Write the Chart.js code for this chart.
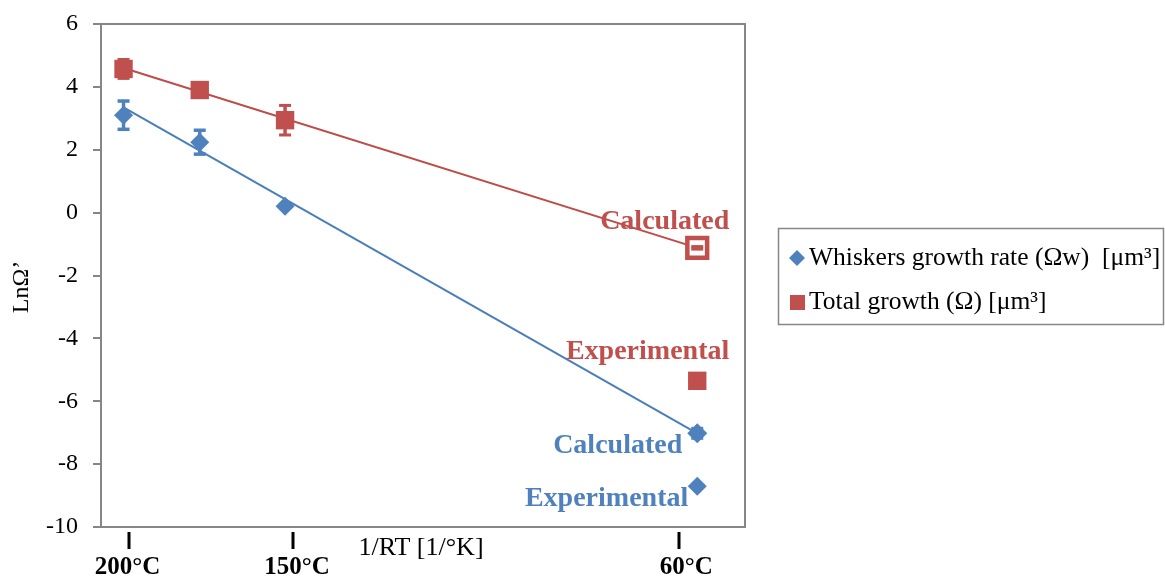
<!DOCTYPE html>
<html>
<head>
<meta charset="utf-8">
<script src="https://cdn.jsdelivr.net/npm/chart.js@4.4.1/dist/chart.umd.min.js"></script>
<style>
  html, body { margin: 0; padding: 0; background: #fff; }
</style>
</head>
<body>
<canvas id="myChart" width="1165" height="580"></canvas>
<script>
// x = 1/RT (x10^-4 mol/J) for 200, 175, 150 and 60 °C
const invRT = [2.542, 2.684, 2.843, 3.611];

// experimental points
const whiskersExp = [3.1, 2.24, 0.2, -8.7];
const whiskersErr = [0.45, 0.38, 0, 0];
const totalExp = [4.57, 3.9, 2.94, -5.35];
const totalErr = [0.3, 0, 0.47, 0];

// calculated value at 60 °C
const calcX = [3.611];
const whiskersCalc = [-7.02];
const whiskersCalcErr = [0.15];
const totalCalc = [-1.12];
const totalCalcErr = [0.04];

// fitted lines
const fitX = [2.542, 3.611];
const whiskersFit = [3.35, -7.02];
const totalFit = [4.6, -1.12];

const yTicks = [-10, -8, -6, -4, -2, 0, 2, 4, 6];
const tempLabels = ['200°C', '150°C', '60°C'];
const tempLabelX = [2.542, 2.843, 3.611];

const BLUE = '#4F81BD';
const RED = '#C0504D';
const GRAY = '#868686';
const SERIF = "'Liberation Serif', 'Times New Roman', serif";

function pts(xs, ys) {
  return xs.map((x, i) => ({ x: x, y: ys[i] }));
}

// each error bar = two points + a gap
function errBars(xs, ys, errs) {
  const out = [];
  xs.forEach((x, i) => {
    if (!errs[i]) return;
    out.push({ x: x, y: ys[i] - errs[i] }, { x: x, y: ys[i] + errs[i] }, { x: x, y: null });
  });
  return out;
}

const extras = {
  id: 'extras',
  beforeDatasetsDraw(chart) {
    const { ctx, chartArea: a } = chart;
    ctx.save();
    ctx.strokeStyle = GRAY;
    ctx.lineWidth = 2;
    ctx.strokeRect(a.left, a.top, a.right - a.left, a.bottom - a.top);
    ctx.restore();
  },
  afterDraw(chart) {
    const { ctx } = chart;
    const xs = chart.scales.x;
    const ys = chart.scales.y;
    ctx.save();

    // y title
    ctx.save();
    ctx.translate(22, 287);
    ctx.rotate(-Math.PI / 2);
    ctx.fillStyle = '#000';
    ctx.font = '24px ' + SERIF;
    ctx.textAlign = 'center';
    ctx.textBaseline = 'middle';
    ctx.fillText('LnΩ’', 0, 0);
    ctx.restore();

    // x title
    ctx.fillStyle = '#000';
    ctx.font = '26px ' + SERIF;
    ctx.textAlign = 'center';
    ctx.textBaseline = 'middle';
    ctx.fillText('1/RT [1/°K]', 421, 548);

    // temperature marks under the axis
    const markOff = [5, 8, -18];
    const textOff = [4, 12, -11];
    ctx.font = 'bold 25px ' + SERIF;
    tempLabels.forEach((lab, i) => {
      const px = xs.getPixelForValue(tempLabelX[i]);
      ctx.fillRect(Math.round(px + markOff[i]) - 1.5, 532, 3, 17);
      ctx.fillText(lab, px + textOff[i], 568);
    });

    // point annotations
    const cx = xs.getPixelForValue(calcX[0]);
    ctx.font = 'bold 28px ' + SERIF;
    ctx.textAlign = 'right';
    ctx.fillStyle = RED;
    ctx.fillText('Calculated', cx + 32, ys.getPixelForValue(totalCalc[0]) - 26);
    ctx.fillText('Experimental', cx + 32, ys.getPixelForValue(totalExp[3]) - 29);
    ctx.fillStyle = BLUE;
    ctx.fillText('Calculated', cx - 15, ys.getPixelForValue(whiskersCalc[0]) + 12);
    ctx.fillText('Experimental', cx - 9, ys.getPixelForValue(whiskersExp[3]) + 13);

    // legend
    ctx.strokeStyle = GRAY;
    ctx.lineWidth = 1.5;
    ctx.strokeRect(778.5, 228.5, 385, 96);
    ctx.fillStyle = BLUE;
    ctx.beginPath();
    ctx.moveTo(789, 258); ctx.lineTo(797, 250); ctx.lineTo(805, 258); ctx.lineTo(797, 266);
    ctx.closePath();
    ctx.fill();
    ctx.fillStyle = RED;
    ctx.fillRect(790, 295, 15, 15);
    ctx.fillStyle = '#000';
    ctx.font = '25.5px ' + SERIF;
    ctx.textAlign = 'left';
    ctx.fillText('Whiskers growth rate (Ωw)  [μm³]', 809, 258);
    ctx.fillText('Total growth (Ω) [μm³]', 809, 302);
    ctx.restore();
  }
};

const ctx = document.querySelector('#myChart');
new Chart(ctx, {
  type: 'scatter',
  data: {
    datasets: [
      {
        label: 'Whiskers growth rate (Ωw)  [μm³]',
        data: pts(invRT, whiskersExp),
        pointStyle: 'rectRot',
        pointRadius: 9.5,
        backgroundColor: BLUE,
        borderColor: BLUE,
        borderWidth: 0,
        order: 0
      },
      {
        label: 'Total growth (Ω) [μm³]',
        data: pts(invRT, totalExp),
        pointStyle: 'rect',
        pointRadius: 13,
        backgroundColor: RED,
        borderColor: RED,
        borderWidth: 0,
        order: 0
      },
      {
        label: 'Whiskers calculated',
        data: pts(calcX, whiskersCalc),
        pointStyle: 'rectRot',
        pointRadius: 10,
        backgroundColor: BLUE,
        borderColor: BLUE,
        borderWidth: 0,
        order: 0
      },
      {
        label: 'Total calculated',
        data: pts(calcX, totalCalc),
        pointStyle: 'rect',
        pointRadius: 14,
        backgroundColor: '#fff',
        borderColor: RED,
        borderWidth: 4.5,
        order: 1.5
      },
      {
        label: 'whiskers err',
        data: errBars(invRT, whiskersExp, whiskersErr).concat(errBars(calcX, whiskersCalc, whiskersCalcErr)),
        showLine: true,
        borderColor: BLUE,
        borderWidth: 3.5,
        pointStyle: 'line',
        pointRadius: 6,
        pointBorderWidth: 3.5,
        pointBorderColor: BLUE,
        order: 1
      },
      {
        label: 'total err',
        data: errBars(invRT, totalExp, totalErr).concat(errBars(calcX, totalCalc, totalCalcErr)),
        showLine: true,
        borderColor: RED,
        borderWidth: 3.5,
        pointStyle: 'line',
        pointRadius: 6,
        pointBorderWidth: 3,
        pointBorderColor: RED,
        order: 1
      },
      {
        label: 'whiskers fit',
        data: pts(fitX, whiskersFit),
        showLine: true,
        borderColor: '#4A7EBB',
        borderWidth: 2,
        pointRadius: 0,
        order: 2
      },
      {
        label: 'total fit',
        data: pts(fitX, totalFit),
        showLine: true,
        borderColor: '#BE4B48',
        borderWidth: 2,
        pointRadius: 0,
        order: 2
      }
    ]
  },
  options: {
    responsive: false,
    animation: false,
    events: [],
    layout: { padding: { top: 24, right: 420, bottom: 53, left: 0 } },
    plugins: {
      legend: { display: false },
      tooltip: { enabled: false }
    },
    scales: {
      x: {
        type: 'linear',
        min: 2.5,
        max: 3.7,
        border: { display: false },
        grid: { display: false },
        ticks: { display: false },
        afterFit: (scale) => { scale.height = 0; }
      },
      y: {
        min: -10,
        max: 6,
        afterBuildTicks: (scale) => { scale.ticks = yTicks.map((v) => ({ value: v })); },
        border: { display: false },
        grid: {
          drawOnChartArea: false,
          drawTicks: true,
          tickLength: 8,
          color: GRAY,
          lineWidth: 2
        },
        ticks: {
          padding: 15,
          color: '#000',
          font: { family: SERIF, size: 24 }
        },
        afterFit: (scale) => {
          scale.width = 101;
          scale.paddingTop = 0;
          scale.paddingBottom = 0;
        }
      }
    }
  },
  plugins: [extras]
});
</script>
</body>
</html>
